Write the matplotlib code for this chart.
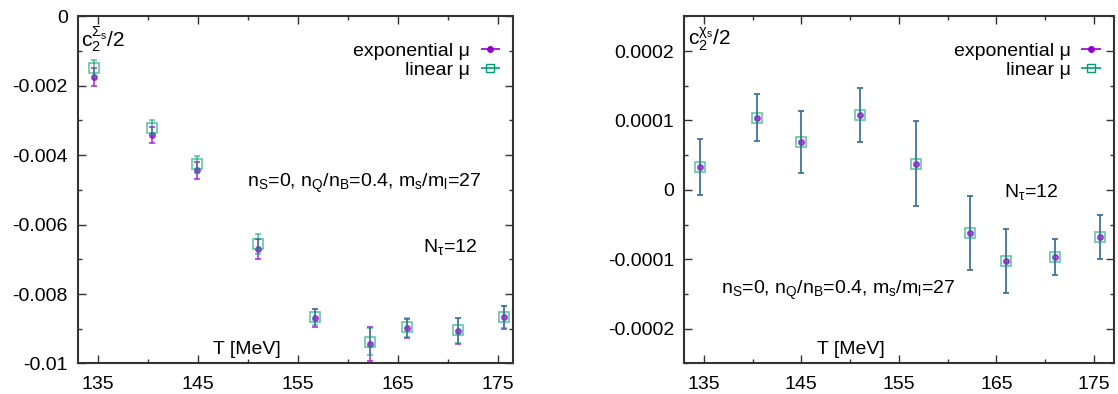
import numpy as np
import matplotlib
matplotlib.use("Agg")
import matplotlib.pyplot as plt
from matplotlib.ticker import MultipleLocator, FixedLocator, FixedFormatter

plt.rcParams['font.family'] = ['Liberation Sans', 'DejaVu Sans']
plt.rcParams['mathtext.fontset'] = 'custom'
plt.rcParams['mathtext.rm'] = 'Liberation Sans'
plt.rcParams['mathtext.it'] = 'Liberation Sans'
plt.rcParams['axes.unicode_minus'] = False

# Temperatures (MeV), N_tau = 12
T = [134.64, 140.45, 144.95, 151.00, 156.78, 162.25, 165.98, 171.02, 175.64]

# Left panel: c2^{Sigma_s}/2
sig_exp = [-0.00175, -0.00342, -0.00444, -0.00670, -0.00870, -0.00944, -0.00899, -0.00907, -0.00867]
sig_exp_err = [0.00025, 0.00022, 0.00025, 0.00028, 0.00026, 0.00050, 0.00028, 0.00037, 0.00033]
sig_lin = [-0.00150, -0.00321, -0.00426, -0.00656, -0.00865, -0.00937, -0.00896, -0.00904, -0.00866]
sig_lin_err = [0.00025, 0.00022, 0.00024, 0.00030, 0.00023, 0.00040, 0.00027, 0.00036, 0.00032]

# Right panel: c2^{chi_s}/2
chi_exp = [3.3e-5, 1.04e-4, 6.9e-5, 1.08e-4, 3.8e-5, -6.2e-5, -1.02e-4, -9.7e-5, -6.8e-5]
chi_exp_err = [4.0e-5, 3.4e-5, 4.4e-5, 3.9e-5, 6.1e-5, 5.3e-5, 4.6e-5, 2.6e-5, 3.2e-5]
chi_lin = [3.3e-5, 1.04e-4, 6.9e-5, 1.08e-4, 3.8e-5, -6.2e-5, -1.02e-4, -9.7e-5, -6.8e-5]
chi_lin_err = [4.0e-5, 3.4e-5, 4.4e-5, 3.9e-5, 6.1e-5, 5.3e-5, 4.6e-5, 2.6e-5, 3.2e-5]

xticks = [135, 145, 155, 165, 175]
left_yticks = [0, -0.002, -0.004, -0.006, -0.008, -0.01]
left_ylabels = ['0', '-0.002', '-0.004', '-0.006', '-0.008', '-0.01']
right_yticks = [0.0002, 0.0001, 0, -0.0001, -0.0002]
right_ylabels = ['0.0002', '0.0001', '0', '-0.0001', '-0.0002']

c_exp = '#9400d3'
c_lin = '#009e73'
fs = 14

fig = plt.figure(figsize=(11.18, 3.94), dpi=100)
axL = fig.add_axes([0.0695, 0.0775, 0.389, 0.881])
axR = fig.add_axes([0.612, 0.0775, 0.384, 0.881])


def style(ax, xlim, ylim, yt, yl, yminor):
    ax.set_xlim(*xlim)
    ax.set_ylim(*ylim)
    ax.xaxis.set_major_locator(FixedLocator(xticks))
    ax.xaxis.set_minor_locator(MultipleLocator(5))
    ax.yaxis.set_major_locator(FixedLocator(yt))
    ax.yaxis.set_major_formatter(FixedFormatter(yl))
    ax.yaxis.set_minor_locator(MultipleLocator(yminor))
    ax.tick_params(which='both', direction='in', top=True, right=True,
                   labelsize=fs, color='#333333')
    ax.tick_params(axis='x', pad=9)
    ax.tick_params(axis='y', pad=7)
    ax.tick_params(which='major', length=6, width=1)
    ax.tick_params(which='minor', length=3, width=1)
    for s in ax.spines.values():
        s.set_linewidth(1.5)
        s.set_color('#333333')


def draw(ax, ye, ee, yl, el):
    ax.errorbar(T, ye, yerr=ee, fmt='o', color=c_exp, ms=4, capsize=2.5,
                elinewidth=1.3, capthick=1.3, alpha=0.7, zorder=3)
    ax.errorbar(T, yl, yerr=el, fmt='s', color=c_lin, mfc='none', mec=c_lin,
                ms=6.5, mew=1.2, capsize=2.5, elinewidth=1.3, capthick=1.3,
                alpha=0.6, zorder=4)
    h1 = ax.errorbar([], [], xerr=[], fmt='o', color=c_exp, ms=4, capsize=2,
                     elinewidth=1.2, label='exponential μ')
    h2 = ax.errorbar([], [], xerr=[], fmt='s', color=c_lin, mfc='none', ms=6,
                     capsize=2, elinewidth=1.2, label='linear μ')
    ax.legend(handles=[h1, h2], loc='upper right', frameon=False,
              markerfirst=False, fontsize=fs, handlelength=0.9,
              handletextpad=0.6, labelspacing=0.1, borderaxespad=0.3,
              bbox_to_anchor=(1.0, 0.965))


style(axL, (133, 176.5), (-0.01, 0), left_yticks, left_ylabels, 0.001)
draw(axL, sig_exp, sig_exp_err, sig_lin, sig_lin_err)
axL.text(0.008, 0.975, r'$\mathrm{c}_2^{\Sigma_\mathrm{s}}/2$', transform=axL.transAxes,
         fontsize=fs + 1, va='top', ha='left')
axL.text(0.39, 0.52, r'n$_S$=0, n$_Q$/n$_B$=0.4, m$_s$/m$_l$=27',
         transform=axL.transAxes, fontsize=fs, ha='left', va='center')
axL.text(0.795, 0.335, r'N$_\tau$=12', transform=axL.transAxes, fontsize=fs,
         ha='left', va='center')
axL.text(0.31, 0.04, 'T [MeV]', transform=axL.transAxes, fontsize=fs,
         ha='left', va='center')

style(axR, (133, 177), (-0.00025, 0.00025), right_yticks, right_ylabels, 0.00005)
draw(axR, chi_exp, chi_exp_err, chi_lin, chi_lin_err)
axR.text(0.008, 0.975, r'$\mathrm{c}_2^{\chi_\mathrm{s}}/2$', transform=axR.transAxes,
         fontsize=fs + 1, va='top', ha='left')
axR.text(0.085, 0.21, r'n$_S$=0, n$_Q$/n$_B$=0.4, m$_s$/m$_l$=27',
         transform=axR.transAxes, fontsize=fs, ha='left', va='center')
axR.text(0.745, 0.495, r'N$_\tau$=12', transform=axR.transAxes, fontsize=fs,
         ha='left', va='center')
axR.text(0.31, 0.04, 'T [MeV]', transform=axR.transAxes, fontsize=fs,
         ha='left', va='center')

fig.savefig('out.png', dpi=100)
